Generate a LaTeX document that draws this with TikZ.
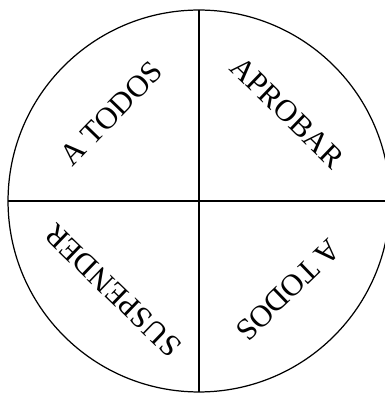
\documentclass[tikz,border=0pt]{standalone}
\usepackage{fontspec}
\setmainfont{Liberation Serif}
\usetikzlibrary{positioning}

\begin{document}
\begin{tikzpicture}[x=0.02cm, y=0.02cm, every node/.style={font=\fontsize{17.5}{20}\selectfont}]
\useasboundingbox (-199,-193) rectangle (185,201);
\node[draw,circle,minimum size=7.64cm,inner sep=0pt,outer sep=0pt,line width=0.7pt] (wheel) at (0,0) {};
\draw[line width=0.7pt] (wheel.north) -- (wheel.south);
\draw[line width=0.7pt] (wheel.west) -- (wheel.east);
\node[rotate=46] (todos1) at (135:124) {A TODOS};
\node[rotate=-44] (aprobar) at (45:125) {APROBAR};
\node[rotate=136] (suspender) at (-134:124) {SUSPENDER};
\node[rotate=-136] (todos2) at (-45:126) {A TODOS};
\end{tikzpicture}
\end{document}
